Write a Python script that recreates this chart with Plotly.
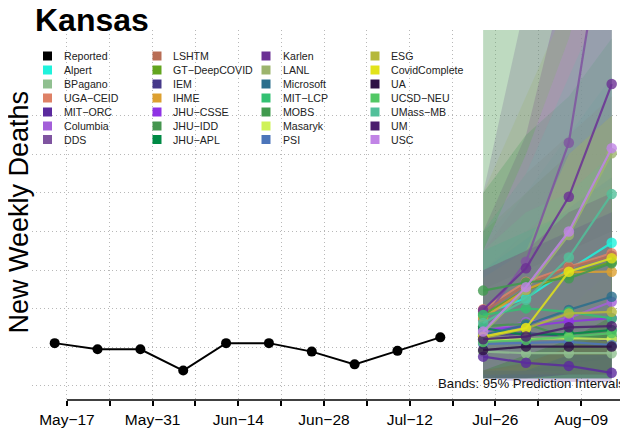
import plotly.graph_objects as go

# ---------------- data ----------------
reported_dates = ['2020-05-15', '2020-05-22', '2020-05-29', '2020-06-05', '2020-06-12',
                  '2020-06-19', '2020-06-26', '2020-07-03', '2020-07-10', '2020-07-17']
reported_values = [21.1, 19.5, 19.5, 14.0, 21.1, 21.1, 18.9, 15.6, 19.1, 22.6]

forecast_dates = ['2020-07-24', '2020-07-31', '2020-08-07', '2020-08-14']

model_names = ['Alpert', 'BPagano', 'UGA\u2212CEID', 'MIT\u2212ORC', 'Columbia', 'DDS',
               'LSHTM', 'GT\u2212DeepCOVID', 'IEM', 'IHME', 'JHU\u2212CSSE', 'JHU\u2212IDD', 'JHU\u2212APL',
               'Karlen', 'LANL', 'Microsoft', 'MIT\u2212LCP', 'MOBS', 'Masaryk', 'PSI',
               'ESG', 'CovidComplete', 'UA', 'UCSD\u2212NEU', 'UMass\u2212MB', 'UM', 'USC']

model_colors = ['#1FF2DC', '#90C090', '#DE8166', '#5B2A9E', '#A35FD9', '#7F54A0',
                '#B86D55', '#62A51E', '#46398A', '#DDA030', '#8F32E5', '#45954F', '#008A45',
                '#6B3094', '#9CB46D', '#2A6E8C', '#33C172', '#409A4E', '#CFF257', '#4C75BA',
                '#B5B83A', '#E2E31A', '#2E1245', '#52C865', '#52C09A', '#4B1E6E', '#C184E6']

model_points = [
    [28.8, 32.7, 40.1, 47.1],   # Alpert
    [18.9, 18.5, 18.5, 18.5],   # BPagano
    [29.9, 37.0, 40.9, 44.4],   # UGA-CEID
    [17.6, 16.0, 15.2, 13.4],   # MIT-ORC
    [24.0, 26.6, 27.6, 31.8],   # Columbia
    [27.1, 42.2, 73.0, 141.3],  # DDS
    [29.2, 36.2, 40.6, 43.7],   # LSHTM
    [28.4, 34.9, 38.8, 42.1],   # GT-DeepCOVID
    [22.9, 23.7, 22.9, 21.9],   # IEM
    [27.6, 34.9, 39.5, 39.6],   # IHME
    [24.5, 25.4, 26.7, 27.6],   # JHU-CSSE
    [25.5, 26.1, 22.4, 22.9],   # JHU-IDD
    [25.0, 23.2, 23.5, 24.5],   # JHU-APL
    [29.7, 40.5, 59.0, 88.2],   # Karlen
    [23.7, 34.9, 49.1, 70.3],   # LANL
    [23.2, 25.8, 29.7, 33.1],   # Microsoft
    [28.4, 30.1, 29.2, 27.5],   # MIT-LCP
    [34.7, 36.8, 37.9, 41.8],   # MOBS
    [21.9, 22.2, 22.4, 22.1],   # Masaryk
    [20.9, 21.1, 21.4, 20.6],   # PSI
    [22.4, 24.9, 28.8, 29.2],   # ESG
    [22.8, 25.0, 39.6, 43.1],   # CovidComplete
    [19.3, 20.2, 20.2, 20.2],   # UA
    [21.4, 21.9, 22.8, 23.7],   # UCSD-NEU
    [26.3, 32.3, 43.3, 59.7],   # UMass-MB
    [22.1, 22.8, 25.2, 25.5],   # UM
    [24.1, 35.6, 50.0, 71.6],   # USC
]

band_lower = [
    [16, 18, 20, 22], [12, 12, 12, 12], [18, 22, 24, 26], [12, 11, 11, 11], [14, 14, 14, 14],
    [15, 18, 25, 35], [16, 18, 20, 20], [15, 18, 18, 18], [12, 12, 12, 12], [18, 22, 25, 25],
    [12, 12, 12, 12], [12, 12, 12, 12], [12, 12, 12, 12], [18, 22, 30, 40], [12, 14, 16, 18],
    [14, 15, 16, 17], [15, 14, 13, 13], [20, 20, 18, 18], [12, 12, 12, 12], [12, 12, 12, 12],
    [13, 13, 13, 13], [14, 14, 18, 18], [12, 12, 12, 12], [12, 12, 12, 12], [14, 16, 20, 24],
    [12, 12, 13, 13], [14, 18, 22, 28],
]

band_upper = [
    [48, 60, 75, 90], [110, 115, 118, 120], [45, 60, 70, 80], [28, 28, 30, 30], [40, 50, 60, 70],
    [60, 110, 200, 350], [50, 65, 75, 85], [50, 60, 70, 80], [40, 45, 50, 55], [38, 50, 58, 62],
    [40, 45, 50, 55], [105, 108, 110, 112], [45, 50, 55, 60], [50, 75, 120, 170], [60, 85, 110, 140],
    [40, 48, 56, 64], [45, 50, 55, 60], [60, 75, 85, 100], [35, 40, 45, 50], [35, 40, 45, 50],
    [38, 45, 55, 60], [40, 45, 70, 80], [40, 45, 50, 55], [45, 55, 60, 70], [50, 65, 90, 115],
    [40, 45, 55, 60], [45, 70, 100, 140],
]

tick_dates = ['2020-05-17', '2020-05-24', '2020-05-31', '2020-06-07', '2020-06-14', '2020-06-21',
              '2020-06-28', '2020-07-05', '2020-07-12', '2020-07-19', '2020-07-26', '2020-08-02',
              '2020-08-09', '2020-08-16']
tick_labels = ['May\u221217', '', 'May\u221231', '', 'Jun\u221214', '', 'Jun\u221228', '',
               'Jul\u221212', '', 'Jul\u221226', '', 'Aug\u221209', '']
grid_values = [10, 20, 30, 40, 50, 60, 70, 80]

FONT = 'Liberation Sans, Arial, Helvetica, sans-serif'
OFF = 8                      # page body margin offset in the browser
W, H = 628 - OFF, 435 - OFF
# plot area in reference pixels: x 32..628, y 30..400
ML, MR, MT, MB = 32 - OFF, 0, 30 - OFF, 35
PW, PH = W - ML - MR, H - MT - MB


def rgba(hexc, a):
    h = hexc.lstrip('#')
    return 'rgba(%d,%d,%d,%.3f)' % (int(h[0:2], 16), int(h[2:4], 16), int(h[4:6], 16), a)


def px2x(px):  # reference pixel -> paper
    return (px - OFF - ML) / PW


def py2y(py):
    return (H - MB - (py - OFF)) / PH


fig = go.Figure()

# prediction bands
for name, col, lo, hi in zip(model_names, model_colors, band_lower, band_upper):
    fig.add_trace(go.Scatter(
        x=forecast_dates + forecast_dates[::-1],
        y=hi + lo[::-1],
        fill='toself', fillcolor=rgba(col, 0.24),
        mode='lines', line=dict(width=0, color=rgba(col, 0)),
        hoverinfo='skip', showlegend=False))

# model forecast lines
for name, col, pts in zip(model_names, model_colors, model_points):
    fig.add_trace(go.Scatter(
        x=forecast_dates, y=pts, mode='lines+markers', name=name,
        line=dict(color=rgba(col, 0.85), width=2.2),
        marker=dict(size=10.5, color=rgba(col, 0.8)),
        showlegend=False))

# reported
fig.add_trace(go.Scatter(
    x=reported_dates, y=reported_values, mode='lines+markers', name='Reported',
    line=dict(color='black', width=2), marker=dict(size=10, color='black'),
    showlegend=False))

shapes = []
annotations = []

# x axis line (only spanning tick range)
shapes.append(dict(type='line', xref='x', yref='paper', x0=tick_dates[0], x1=tick_dates[-1],
                   y0=0, y1=0, line=dict(color='black', width=1.6)))

# manual legend (4 columns x 7 rows)
legend_names = ['Reported'] + model_names
legend_colors = ['#000000'] + model_colors
col_sq = [47.5, 157, 266, 375]
col_tx = [62, 171, 281, 389]
row_y = [56, 70, 84, 98, 112, 126, 139.5]
for i, (nm, c) in enumerate(zip(legend_names, legend_colors)):
    ci, ri = i // 7, i % 7
    cx, cy = col_sq[ci], row_y[ri]
    shapes.append(dict(type='rect', xref='paper', yref='paper',
                       x0=px2x(cx - 4.5), x1=px2x(cx + 4.5),
                       y0=py2y(cy + 4.5), y1=py2y(cy - 4.5),
                       fillcolor=c, line=dict(width=0)))
    annotations.append(dict(text=nm, xref='paper', yref='paper', x=px2x(col_tx[ci]), y=py2y(cy),
                            xanchor='left', yanchor='middle', showarrow=False,
                            font=dict(family=FONT, size=10.6, color='#222222')))

# title
annotations.append(dict(text='<b>Kansas</b>', xref='paper', yref='paper', x=px2x(33), y=py2y(20),
                        xanchor='left', yanchor='middle', showarrow=False,
                        font=dict(family=FONT, size=32, color='black')))
# y label
annotations.append(dict(text='New Weekly Deaths', xref='paper', yref='paper', x=px2x(18.5), y=py2y(212),
                        xanchor='center', yanchor='middle', textangle=-90, showarrow=False,
                        font=dict(family=FONT, size=27, color='black')))
# bands note
annotations.append(dict(text='Bands: 95% Prediction Intervals', xref='paper', yref='paper',
                        x=px2x(627), y=py2y(383.5), xanchor='right', yanchor='middle', showarrow=False,
                        font=dict(family=FONT, size=13.2, color='#111111')))

fig.update_layout(
    width=W, height=H,
    margin=dict(l=ML, r=MR, t=MT, b=MB),
    plot_bgcolor='white', paper_bgcolor='white',
    showlegend=False,
    shapes=shapes, annotations=annotations,
    font=dict(family=FONT),
    xaxis=dict(type='date', range=['2020-05-11 07:00', '2020-08-16 16:00'],
               tickvals=tick_dates, ticktext=tick_labels,
               ticks='outside', ticklen=5, tickwidth=1.6, tickcolor='black',
               showgrid=True, gridcolor='#b8b8b8', griddash='1px,3px', gridwidth=1,
               zeroline=False, showline=False,
               tickfont=dict(family=FONT, size=15.5, color='black')),
    yaxis=dict(range=[6.37, 102.2], tickvals=grid_values, showticklabels=False,
               ticks='', showgrid=True, gridcolor='#b8b8b8', griddash='1px,3px', gridwidth=1,
               zeroline=False, showline=False),
)

fig.write_html('out.html')
